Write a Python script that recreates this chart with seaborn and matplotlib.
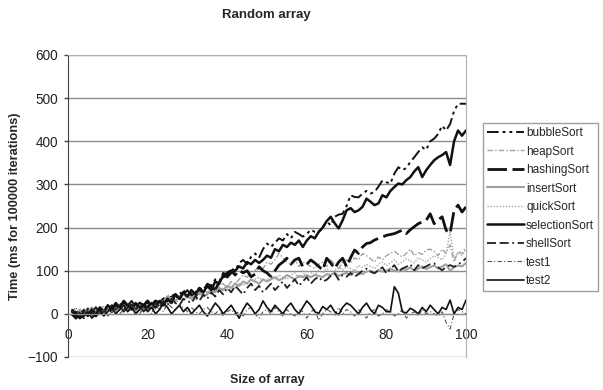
import matplotlib
matplotlib.use('Agg')
import seaborn as sns
import pandas as pd
import numpy as np
import matplotlib.pyplot as plt

# array size 1..100
size = list(range(1, 101))

bubbleSort = [10, -5, 0, -10, 5, 0, 15, 5, -5, 10,
              20, 15, 25, 10, 20, 30, 15, 20, 10, 25,
              20, 30, 15, 25, 35, 40, 30, 50, 45, 55,
              40, 50, 60, 55, 70, 65, 80, 75, 95, 90,
              105, 100, 118, 125, 115, 132, 140, 130, 150, 163,
              155, 165, 175, 170, 185, 175, 190, 185, 179, 185,
              195, 190, 190, 200, 215, 205, 225, 230, 232, 250,
              275, 271, 270, 279, 285, 279, 282, 295, 309, 305,
              302, 325, 340, 333, 338, 352, 363, 375, 386, 380,
              400, 406, 417, 436, 425, 440, 470, 487, 487, 487]

heapSort = [0, 10, -5, 5, 15, 0, 10, 5, 20, 10,
            5, 15, 10, 20, 5, 15, 25, 10, 20, 15,
            25, 15, 30, 20, 45, 35, 30, 40, 35, 45,
            40, 50, 45, 55, 50, 60, 55, 65, 70, 60,
            75, 70, 80, 90, 85, 95, 100, 110, 105, 120,
            115, 125, 140, 130, 120, 115, 125, 110, 120, 115,
            110, 105, 115, 120, 110, 125, 115, 105, 120, 125,
            118, 130, 125, 140, 135, 128, 120, 132, 125, 135,
            140, 145, 138, 132, 140, 150, 135, 142, 138, 148,
            150, 145, 135, 150, 140, 160, 120, 145, 140, 155]

hashingSort = [0, -10, 5, -5, 10, 0, -5, 10, 5, 15,
               5, 20, 10, 25, 15, 20, 10, 25, 20, 30,
               20, 30, 25, 35, 30, 40, 45, 35, 50, 55,
               45, 40, 55, 50, 60, 65, 55, 75, 85, 95,
               100, 90, 101, 95, 100, 86, 92, 109, 100, 95,
               86, 100, 113, 120, 129, 115, 125, 129, 109, 115,
               125, 118, 110, 101, 129, 118, 105, 120, 129, 109,
               130, 148, 140, 155, 163, 165, 171, 175, 178, 182,
               184, 186, 190, 194, 186, 195, 202, 209, 213, 217,
               232, 209, 218, 225, 194, 186, 240, 252, 236, 248]

insertSort = [5, 0, 10, -5, 5, 15, 0, 10, 5, 15,
              10, 5, 15, 20, 10, 15, 5, 20, 15, 10,
              20, 15, 25, 30, 40, 35, 30, 40, 45, 40,
              35, 45, 50, 40, 45, 55, 50, 60, 55, 65,
              60, 70, 65, 75, 70, 80, 75, 70, 80, 75,
              80, 85, 78, 82, 90, 85, 80, 88, 85, 90,
              85, 90, 88, 85, 92, 90, 95, 88, 92, 95,
              90, 98, 95, 92, 98, 100, 95, 102, 98, 100,
              105, 100, 98, 104, 102, 108, 100, 105, 110, 104,
              108, 112, 105, 110, 115, 100, 108, 112, 110, 118]

quickSort = [0, 5, 10, 0, -5, 10, 5, 15, 0, 10,
             5, 15, 10, 5, 20, 10, 15, 5, 10, 20,
             15, 10, 25, 15, 20, 30, 25, 35, 30, 40,
             35, 30, 45, 40, 50, 45, 55, 50, 60, 55,
             65, 60, 70, 65, 75, 70, 80, 85, 75, 80,
             85, 80, 90, 85, 80, 90, 95, 85, 90, 100,
             95, 90, 100, 95, 105, 98, 100, 108, 102, 110,
             105, 100, 112, 108, 115, 110, 105, 115, 120, 112,
             118, 125, 115, 120, 128, 122, 118, 130, 125, 120,
             128, 135, 130, 125, 140, 190, 130, 140, 135, 150]

selectionSort = [5, 0, -10, 5, -5, 10, 0, 15, 5, 20,
                 10, 25, 15, 30, 20, 10, 25, 15, 20, 15,
                 25, 15, 30, 20, 35, 25, 45, 35, 50, 40,
                 55, 45, 60, 50, 65, 55, 75, 70, 90, 85,
                 95, 100, 110, 105, 120, 115, 125, 118, 125, 135,
                 130, 150, 145, 160, 155, 165, 160, 170, 155, 170,
                 180, 175, 190, 200, 215, 225, 210, 198, 217, 240,
                 245, 236, 240, 248, 267, 260, 252, 256, 275, 270,
                 285, 294, 302, 300, 310, 317, 330, 340, 317, 333,
                 345, 356, 363, 368, 375, 345, 400, 425, 413, 425]

shellSort = [-5, 5, 0, 10, -5, 5, 15, 0, 10, 5,
             15, 10, 20, 5, 15, 25, 10, 20, 5, 15,
             10, 25, 15, 30, 20, 35, 25, 20, 35, 30,
             25, 40, 30, 45, 35, 50, 40, 55, 45, 60,
             50, 65, 55, 45, 60, 70, 55, 65, 50, 60,
             70, 55, 65, 75, 60, 70, 80, 65, 75, 85,
             70, 80, 86, 75, 79, 88, 94, 79, 90, 86,
             95, 86, 92, 100, 105, 98, 94, 101, 108, 94,
             104, 113, 98, 105, 109, 115, 101, 113, 106, 110,
             115, 117, 108, 101, 109, 113, 109, 115, 120, 129]

test1 = [5, 15, -5, 0, 10, -10, 5, 0, 10, -5,
         5, 15, 0, 10, 5, 20, 10, 0, 15, 10,
         0, 20, 10, 5, 25, 15, 10, 20, 15, 5,
         15, 5, 0, 10, 15, 5, 0, 10, -5, 5,
         10, 0, 5, -5, 10, 15, 0, -10, 5, 10,
         0, 15, 5, -5, 10, 0, -5, 10, 5, -10,
         5, 10, -15, 0, 10, 5, -5, 15, 0, 10,
         5, -5, 10, 0, -10, 5, 10, -5, 0, 10,
         5, -5, 0, 10, -10, 0, 5, -5, 10, 0,
         5, 0, -5, 5, -20, -35, 0, 10, 5, 0]

test2 = [10, 0, -10, -5, 5, -10, 0, 10, -5, 5,
         15, 0, 10, 20, 5, 15, 0, 10, 20, 5,
         15, 0, 10, 25, 15, 0, 10, 20, 5, 15,
         0, 10, 20, 5, -5, 10, 25, 15, 0, 10,
         20, 5, -10, 10, 25, 15, 0, 10, 30, 15,
         5, 20, 10, 0, 15, 25, 10, 0, 15, 30,
         20, 5, 1, 17, 10, 20, 5, -2, 15, 25,
         20, 10, 0, 15, 25, 10, 0, 20, 15, 5,
         5, 63, 48, 5, 2, 13, 8, 0, 15, 5,
         20, 10, 0, 15, 10, 32, 0, 15, 10, 32]

names = ['bubbleSort', 'heapSort', 'hashingSort', 'insertSort', 'quickSort',
         'selectionSort', 'shellSort', 'test1', 'test2']
series = [bubbleSort, heapSort, hashingSort, insertSort, quickSort,
          selectionSort, shellSort, test1, test2]

df = pd.DataFrame({'size': size})
for n, s in zip(names, series):
    df[n] = s

# colour, width, dash style
look = {
    'bubbleSort':    ('#111111', 1.4, (0, (6, 2, 1.5, 2, 1.5, 2))),
    'heapSort':      ('#a0a0a0', 1.0, (0, (4, 1.5, 1, 1.5))),
    'hashingSort':   ('#111111', 2.0, (0, (7, 2))),
    'insertSort':    ('#a0a0a0', 1.5, '-'),
    'quickSort':     ('#a8a8a8', 1.0, (0, (1, 1.2))),
    'selectionSort': ('#111111', 1.8, '-'),
    'shellSort':     ('#222222', 1.3, (0, (5, 2, 5, 2, 1, 2))),
    'test1':         ('#555555', 0.8, (0, (4, 2, 1, 2))),
    'test2':         ('#111111', 1.2, '-'),
}

sns.set_style('white')
plt.rcParams['font.family'] = ['Liberation Sans', 'DejaVu Sans']

fig = plt.figure(figsize=(6.03, 3.9), dpi=100)
ax = fig.add_axes([68/603, 1 - 357/390, (466 - 68)/603, (357 - 55)/390])

for n in names:
    c, lw, ls = look[n]
    sns.lineplot(data=df, x='size', y=n, ax=ax, color=c, lw=lw,
                 linestyle=ls, label=n)

ax.set_xlim(0, 100)
ax.set_ylim(-100, 600)
ax.set_yticks(range(-100, 700, 100))
ax.set_xticks(range(0, 120, 20))
ax.yaxis.grid(True, color='#8c8c8c', lw=1)
ax.xaxis.grid(False)
ax.set_axisbelow(True)

ax.spines['bottom'].set_position(('data', 0))
ax.spines['bottom'].set_color('#8c8c8c')
ax.spines['left'].set_color('#444444')
ax.spines['top'].set_color('#b0b0b0')
ax.spines['right'].set_color('#b0b0b0')
ax.tick_params(axis='y', left=True, length=3, width=1, color='#444444',
               labelsize=9.8, pad=4, labelcolor='#222222')
ax.tick_params(axis='x', bottom=False, length=0, labelsize=9.8, pad=10,
               labelcolor='#222222')

ax.set_xlabel('')
ax.set_ylabel('')
fig.text(15/603, 1 - 206/390, 'Time (ms for 100000 iterations)', rotation=90,
         ha='center', va='center', fontsize=9.2, fontweight='bold')
fig.text(267/603, 1 - 380/390, 'Size of array', ha='center', va='center',
         fontsize=9, fontweight='bold')
fig.text(266/603, 1 - 15/390, 'Random array', ha='center', va='center',
         fontsize=9.5, fontweight='bold')

ax.get_legend().remove()
handles, labels = ax.get_legend_handles_labels()
leg = fig.legend(handles, labels, loc='upper left',
                 bbox_to_anchor=(483/603, 1 - 123/390),
                 bbox_transform=fig.transFigure, frameon=True, fancybox=False,
                 fontsize=8.5, handlelength=3.1, handletextpad=0.2,
                 labelspacing=0.55, borderpad=0.35, borderaxespad=0)
leg.get_frame().set_edgecolor('#888888')
leg.get_frame().set_linewidth(1)

fig.savefig('out.png', dpi=100)
